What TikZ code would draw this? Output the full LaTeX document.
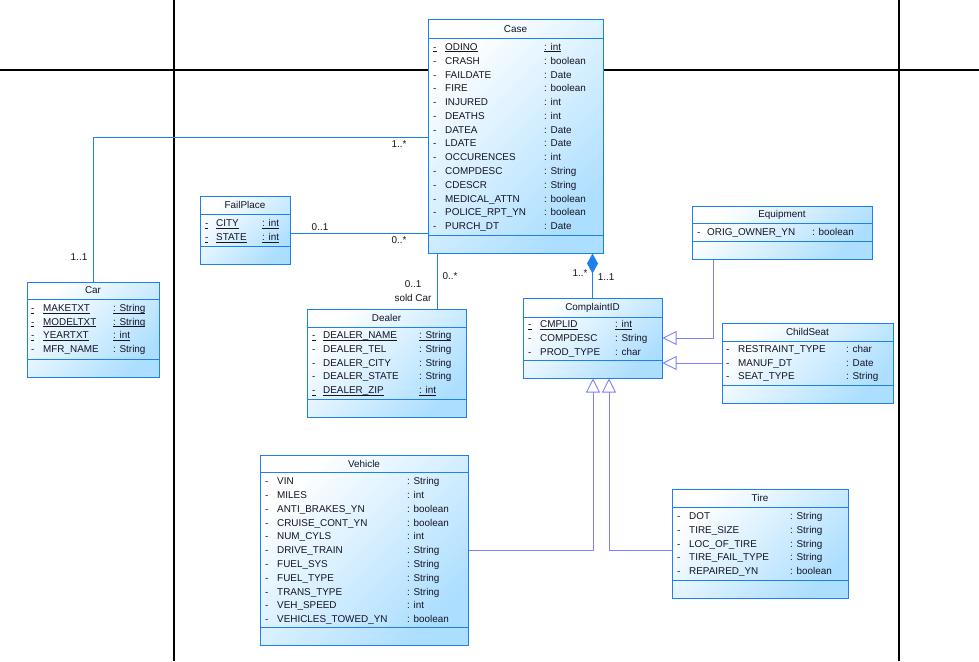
\documentclass[tikz,border=0pt]{standalone}
\usepackage{fontspec}
\setmainfont{Liberation Sans}
\usetikzlibrary{arrows.meta,fit}

\definecolor{umlborder}{RGB}{30,128,235}
\definecolor{umlfill}{RGB}{172,222,255}
\definecolor{genline}{RGB}{128,128,255}
\definecolor{ink}{RGB}{20,20,35}

% underline at a fixed depth below the baseline
\newcommand\ulx[1]{\setbox0\hbox{#1}\rlap{\rule[-1.6pt]{\wd0}{0.7pt}}\box0}

\tikzset{
  umlfont/.style={font=\fontsize{9.9}{11}\selectfont, text=ink},
  classbox/.style={draw=umlborder, line width=1pt, inner sep=0pt,
    top color=white, bottom color=umlfill, shading angle=45},
  classline/.style={draw=umlborder, line width=1pt},
  classtitle/.style={umlfont, inner sep=0pt},
  attr/.style={umlfont, inner sep=0pt, anchor=base west},
  mult/.style={umlfont, inner sep=0pt},
  assoc/.style={draw=umlborder, line width=0.9pt},
  gen/.style={draw=genline, line width=0.9pt,
    -{Triangle[open, length=14pt, width=14pt, line width=0.9pt]}},
  frameline/.style={draw=black, line width=1.3pt},
}

% class box: id, title, x1, y1, x2, y2, header line y, attribute line y
\newcommand\umlclass[8]{%
  \node[classbox, fit={(#3,#4) (#5,#6)}] (#1) {};
  \draw[classline] (#3,#7) -- (#5,#7);
  \draw[classline] (#3,#8) -- (#5,#8);
  \pgfmathsetmacro\titlex{(#3+#5)/2}%
  \pgfmathsetmacro\titley{(#4+#7)/2}%
  \node[classtitle] (#1-title) at (\titlex,\titley) {#2};
}

% attribute rows: id, dash x, name x, type x, first row y, row step, rows
\newcommand\umlattrs[7]{%
  \foreach \rowdash/\rowname/\rowtype [count=\ri from 0] in {#7} {
    \pgfmathsetmacro\rowy{#5+\ri*#6+3.6}
    \node[attr] (#1-d\ri) at (#2,\rowy) {\rowdash};
    \node[attr] (#1-n\ri) at (#3,\rowy) {\rowname};
    \node[attr] (#1-t\ri) at (#4,\rowy) {\rowtype};
  }
}

\begin{document}
\begin{tikzpicture}[x=1pt, y=-1pt]
  \fill[white] (0,0) rectangle (979,661);
  \useasboundingbox (0,0) rectangle (979,661);

  % page grid lines
  \draw[frameline] (174,0) -- (174,661);
  \draw[frameline] (899,0) -- (899,661);
  \draw[frameline] (0,70) -- (979,70);

  % classes
  \umlclass{case}{Case}{428}{20}{603}{253}{38.5}{235}
  \umlattrs{case}{433}{445}{544}{47}{13.77}{
    {\ulx{-}}/{\ulx{ODINO}}/{\ulx{: int}},
    -/CRASH/: boolean,
    -/FAILDATE/: Date,
    -/FIRE/: boolean,
    -/INJURED/: int,
    -/DEATHS/: int,
    -/DATEA/: Date,
    -/LDATE/: Date,
    -/OCCURENCES/: int,
    -/COMPDESC/: String,
    -/CDESCR/: String,
    -/MEDICAL\_ATTN/: boolean,
    -/POLICE\_RPT\_YN/: boolean,
    -/PURCH\_DT/: Date}

  \umlclass{car}{Car}{27}{282}{159}{377}{299}{359}
  \umlattrs{car}{31}{43}{113}{308}{13.67}{
    {\ulx{-}}/{\ulx{MAKETXT}}/{\ulx{: String}},
    {\ulx{-}}/{\ulx{MODELTXT}}/{\ulx{: String}},
    {\ulx{-}}/{\ulx{YEARTXT}}/{\ulx{: int}},
    -/MFR\_NAME/: String}

  \umlclass{failplace}{FailPlace}{200}{196}{290}{264}{214}{246}
  \umlattrs{failplace}{205}{216}{262}{223}{14}{
    {\ulx{-}}/{\ulx{CITY}}/{\ulx{: int}},
    {\ulx{-}}/{\ulx{STATE}}/{\ulx{: int}}}

  \umlclass{dealer}{Dealer}{307}{309}{466}{417}{327}{399}
  \umlattrs{dealer}{312}{323}{419}{335}{13.75}{
    {\ulx{-}}/{\ulx{DEALER\_NAME}}/{\ulx{: String}},
    -/DEALER\_TEL/: String,
    -/DEALER\_CITY/: String,
    -/DEALER\_STATE/: String,
    {\ulx{-}}/{\ulx{DEALER\_ZIP}}/{\ulx{: int}}}

  \umlclass{complaint}{ComplaintID}{523}{298}{662}{378}{317}{360}
  \umlattrs{complaint}{528}{540}{615}{324}{14}{
    {\ulx{-}}/{\ulx{CMPLID}}/{\ulx{: int}},
    -/COMPDESC/: String,
    -/PROD\_TYPE/: char}

  \umlclass{equipment}{Equipment}{692}{206}{872}{259}{223}{241}
  \umlattrs{equipment}{697}{707}{812}{232}{14}{
    -/ORIG\_OWNER\_YN/: boolean}

  \umlclass{childseat}{ChildSeat}{722}{323}{893}{403}{341}{385}
  \umlattrs{childseat}{726}{738}{846}{349}{13.5}{
    -/RESTRAINT\_TYPE/: char,
    -/MANUF\_DT/: Date,
    -/SEAT\_TYPE/: String}

  \umlclass{vehicle}{Vehicle}{260}{455}{468}{645}{472}{627}
  \umlattrs{vehicle}{265}{277}{407}{481}{13.8}{
    -/VIN/: String,
    -/MILES/: int,
    -/ANTI\_BRAKES\_YN/: boolean,
    -/CRUISE\_CONT\_YN/: boolean,
    -/NUM\_CYLS/: int,
    -/DRIVE\_TRAIN/: String,
    -/FUEL\_SYS/: String,
    -/FUEL\_TYPE/: String,
    -/TRANS\_TYPE/: String,
    -/VEH\_SPEED/: int,
    -/VEHICLES\_TOWED\_YN/: boolean}

  \umlclass{tire}{Tire}{672}{489}{848}{598}{507}{580}
  \umlattrs{tire}{677}{689}{790}{516}{13.75}{
    -/DOT/: String,
    -/TIRE\_SIZE/: String,
    -/LOC\_OF\_TIRE/: String,
    -/TIRE\_FAIL\_TYPE/: String,
    -/REPAIRED\_YN/: boolean}

  % associations
  \draw[assoc] (car.north) |- (case.west |- 0,137);
  \draw[assoc] (failplace.east |- 0,233) -- (case.west |- 0,233);
  \draw[assoc] (dealer.north -| 437,0) -- (case.south -| 437,0);
  \draw[assoc, -{Diamond[length=20pt, width=11pt, fill=umlborder]}]
    (complaint.north) -- (complaint.north |- case.south);

  % generalizations
  \draw[gen] (equipment.south -| 713,0) |- (complaint.east |- 0,338);
  \draw[gen] (childseat.west |- 0,363) -- (complaint.east |- 0,363);
  \draw[gen] (vehicle.east |- 0,550) -| (complaint.south -| 593,0);
  \draw[gen] (tire.west |- 0,550) -| (complaint.south -| 609,0);

  % multiplicities and roles
  \node[mult] (m-case-car)  at (399,144) {1..*};
  \node[mult] (m-car)       at (79,257)  {1..1};
  \node[mult] (m-failplace) at (320,227) {0..1};
  \node[mult] (m-case-fp)   at (399,240) {0..*};
  \node[mult] (m-case-dl)   at (450,276) {0..*};
  \node[mult] (m-dealer)    at (413,284) {0..1};
  \node[mult] (r-dealer)    at (413,298) {sold Car};
  \node[mult] (m-case-cp)   at (580,273) {1..*};
  \node[mult] (m-complaint) at (606,277) {1..1};
\end{tikzpicture}
\end{document}
